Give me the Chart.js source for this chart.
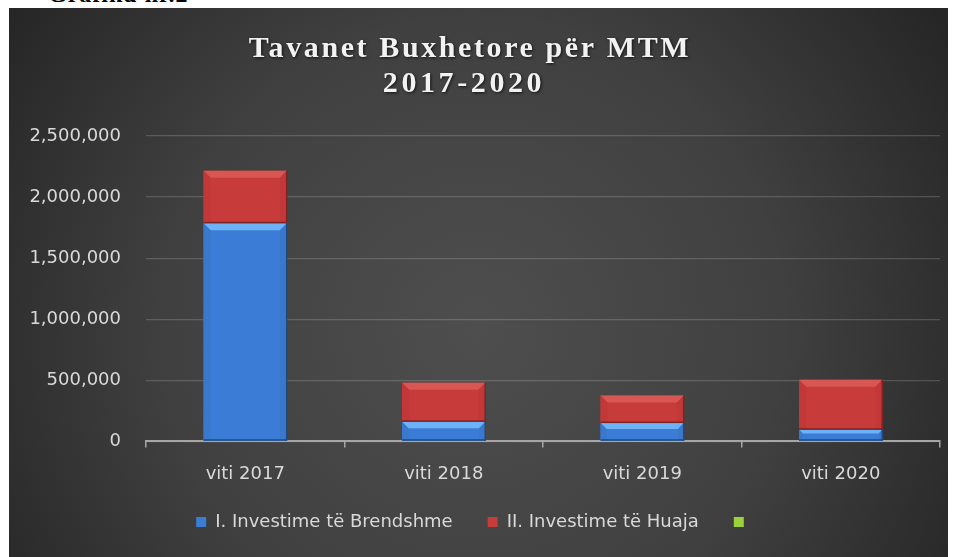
<!DOCTYPE html>
<html>
<head>
<meta charset="utf-8">
<script src="https://cdn.jsdelivr.net/npm/chart.js@4"></script>
<style>
  body { margin: 0; background: #ffffff; width: 958px; height: 557px; overflow: hidden; position: relative; }
  #caption { position: absolute; left: 48px; top: -19px; font: bold 24px "Liberation Serif", serif; color: #000; letter-spacing: 1px; }
  #frame { position: absolute; left: 9px; top: 8px; width: 939px; height: 549px; }
</style>
</head>
<body>
<div id="caption">Grafiku nr.2</div>
<div id="frame"><canvas id="bar-chart" width="939" height="549"></canvas></div>
<script>
// data
var titleLines = ["Tavanet Buxhetore për MTM", "2017-2020"];
var years = ["viti 2017", "viti 2018", "viti 2019", "viti 2020"];
var investBrendshme = [1785000, 160000, 150000, 95000];
var investHuaja = [430000, 320000, 225000, 410000];
var seriesNames = ["I. Investime të Brendshme", "II. Investime të Huaja", ""];
var yTicks = [0, 500000, 1000000, 1500000, 2000000, 2500000];

var labelFont = { family: "DejaVu Sans", size: 18 };
var legendTrim = 23;

// dark radial backdrop like the office chart style
var backdrop = {
    id: "backdrop",
    beforeDraw: function (chart) {
        var ctx = chart.ctx;
        ctx.save();
        var g = ctx.createRadialGradient(465, 320, 0, 465, 320, 560);
        g.addColorStop(0, "#4e4e4e");
        g.addColorStop(0.55, "#404040");
        g.addColorStop(1, "#262626");
        ctx.fillStyle = g;
        ctx.fillRect(0, 0, chart.width, chart.height);
        ctx.restore();
    },
    // legend keeps wide gaps between items but not the tall box that comes with them
    beforeLayout: function (chart) {
        var lg = chart.legend;
        if (lg && !lg._short) {
            var fit = lg.fit;
            lg.fit = function () {
                fit.call(this);
                this.height -= legendTrim;
            };
            lg._short = true;
        }
    },
    afterLayout: function (chart) {
        var lg = chart.legend;
        if (lg) {
            lg.top -= legendTrim;
            lg.height += legendTrim;
        }
    }
};

// spaced serif title with a soft shadow
var spacedTitle = {
    id: "spacedTitle",
    afterDraw: function (chart) {
        var ctx = chart.ctx;
        ctx.save();
        ctx.font = "bold 30px 'Liberation Serif'";
        ctx.letterSpacing = "2.6px";
        ctx.textAlign = "center";
        ctx.textBaseline = "alphabetic";
        ctx.shadowColor = "rgba(0,0,0,0.7)";
        ctx.shadowBlur = 3;
        ctx.shadowOffsetX = 1;
        ctx.shadowOffsetY = 1;
        ctx.fillStyle = "#f2f2f2";
        ctx.fillText(titleLines[0], 461, 49);
        ctx.letterSpacing = "3.6px";
        ctx.fillText(titleLines[1], 455, 84);
        ctx.restore();
    }
};

// bevel edges on each bar
var bevel = {
    id: "bevel",
    afterDatasetsDraw: function (chart) {
        var ctx = chart.ctx;
        chart.data.datasets.forEach(function (ds, i) {
            var meta = chart.getDatasetMeta(i);
            if (meta.hidden || !ds.bevelTop) return;
            meta.data.forEach(function (bar) {
                var p = bar.getProps(["x", "y", "base", "width"], true);
                var l = p.x - p.width / 2, r = p.x + p.width / 2;
                var t = Math.min(p.y, p.base), b = Math.max(p.y, p.base);
                if (b - t < 2) return;
                var bv = Math.min(7, (b - t) / 3);
                ctx.save();
                ctx.fillStyle = ds.bevelTop;
                ctx.beginPath();
                ctx.moveTo(l, t); ctx.lineTo(r, t); ctx.lineTo(r - bv, t + bv); ctx.lineTo(l + bv, t + bv);
                ctx.closePath(); ctx.fill();
                ctx.fillStyle = ds.bevelSide;
                ctx.beginPath();
                ctx.moveTo(l, t); ctx.lineTo(l + bv, t + bv); ctx.lineTo(l + bv, b - 1); ctx.lineTo(l, b);
                ctx.closePath(); ctx.fill();
                ctx.beginPath();
                ctx.moveTo(r, t); ctx.lineTo(r - bv, t + bv); ctx.lineTo(r - bv, b - 1); ctx.lineTo(r, b);
                ctx.closePath(); ctx.fill();
                ctx.fillStyle = ds.bevelDark;
                ctx.fillRect(r - 1, t, 1.5, b - t);
                ctx.fillRect(l, b - 1.5, r - l, 1.5);
                ctx.restore();
            });
        });
    }
};

var barChart = new Chart(document.getElementById("bar-chart").getContext("2d"), {
    type: "bar",
    data: {
        labels: years,
        datasets: [
            {
                label: seriesNames[0],
                data: investBrendshme,
                backgroundColor: "#3b7dd6",
                bevelTop: "#6db2f6",
                bevelSide: "#3a78cc",
                bevelDark: "#224a80",
            },
            {
                label: seriesNames[1],
                data: investHuaja,
                backgroundColor: "#c83b3b",
                bevelTop: "#d95753",
                bevelSide: "#c23838",
                bevelDark: "#7e2324",
            },
            {
                label: seriesNames[2],
                data: [],
                backgroundColor: "#9bd13a",
            },
        ],
    },
    options: {
        responsive: false,
        animation: false,
        layout: { padding: { top: 128, right: 8, bottom: 16, left: 0 } },
        datasets: { bar: { barPercentage: 0.42, categoryPercentage: 1 } },
        scales: {
            x: {
                stacked: true,
                grid: { display: true, drawOnChartArea: false, drawTicks: true, tickLength: 6, color: "#a6a6a6", lineWidth: 1.5, offset: true },
                border: { display: true, color: "#a6a6a6", width: 2 },
                ticks: { color: "#d9d9d9", font: labelFont, padding: 16 },
            },
            y: {
                stacked: true,
                min: 0,
                max: 2500000,
                afterBuildTicks: function (scale) {
                    scale.ticks = yTicks.map(function (v) { return { value: v }; });
                },
                afterFit: function (scale) { scale.width = 137; },
                grid: { color: "rgba(255,255,255,0.17)", lineWidth: 1.3, drawTicks: false },
                border: { display: false },
                ticks: {
                    color: "#d9d9d9",
                    font: labelFont,
                    padding: 25,
                    callback: function (v) { return Number(v).toLocaleString("en-US"); },
                },
            },
        },
        plugins: {
            legend: {
                position: "bottom",
                labels: { color: "#d9d9d9", font: labelFont, boxWidth: 10, boxHeight: 10, padding: 35 },
            },
            title: { display: false },
            tooltip: { enabled: false },
        },
    },
    plugins: [backdrop, bevel, spacedTitle],
});
</script>
</body>
</html>
